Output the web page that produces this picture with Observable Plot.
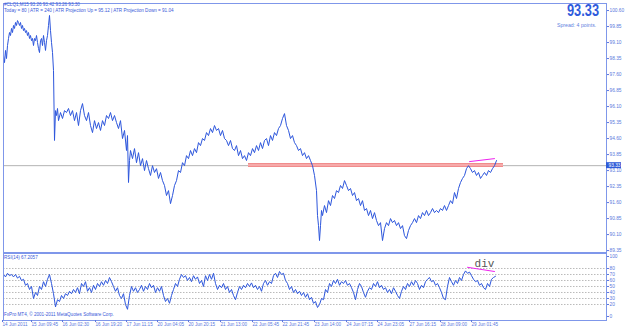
<!DOCTYPE html>
<html><head><meta charset="utf-8">
<script src="https://cdn.jsdelivr.net/npm/d3@7"></script>
<script src="https://cdn.jsdelivr.net/npm/@observablehq/plot@0.6"></script>
<style>
body{margin:0;background:#fff;}
#wrap{position:relative;width:625px;height:328px;overflow:hidden;font-family:"Liberation Sans",Arial,sans-serif;background:#fff;}
#wrap svg{position:absolute;left:0;overflow:visible;}
.t{position:absolute;white-space:nowrap;color:#3a5ad8;line-height:1;}
</style></head><body><div id="wrap"></div>
<script>
// ---- data (bar index of M15 bars) ----
const priceBars = [
0,2,4,6,8,10,12,14,16,18,20,22,24,26,28,30,32,34,36,38,40,42,44,46,48,50,52,54,56,58,60,62,64,66,68,70,72,74,76,78,80,82,84,86,88,90,92,94,96,98,100,102,104,106,108,110,
114,118,122,126,130,134,138,142,146,150,154,158,162,166,170,174,178,182,186,190,194,198,202,206,210,214,218,222,226,230,234,238,242,246,
248,250,252,254,
258,262,266,270,274,278,282,286,290,294,298,302,306,310,314,318,322,326,330,334,338,342,346,350,354,358,362,366,370,374,378,382,386,390,394,398,402,406,410,414,418,422,426,430,434,438,442,446,450,454,458,462,466,470,474,478,482,486,490,494,498,502,506,510,514,518,522,526,530,534,538,542,546,550,554,558,562,566,570,574,578,582,586,590,594,598,602,606,610,614,618,622,626,
628,630,632,634,636,638,
642,646,650,654,658,662,666,670,674,678,682,686,690,694,698,702,706,710,714,718,722,726,730,734,738,742,746,750,754,758,762,766,770,774,778,782,786,790,794,798,802,806,810,814,818,822,826,830,834,838,842,846,850,854,858,862,866,870,874,878,882,886,890,894,898,902,906,910,914,918,922,926,930,934,938,942,946,950,954,958,962,966,970,974,978,982,986];
const priceVals = [
98.49,98.16,98.73,98.35,98.96,99.29,99.57,99.43,99.76,99.57,99.90,99.76,100.04,99.90,100.13,100.04,99.90,100.04,99.76,99.90,99.66,99.76,99.57,99.66,99.43,99.57,99.29,99.43,99.19,99.29,98.96,99.29,99.19,99.43,99.10,98.82,98.63,99.19,99.29,98.96,99.43,99.10,98.73,99.19,99.43,99.90,100.37,99.66,99.10,98.63,97.79,94.51,95.91,95.68,96.01,95.44,
95.82,95.54,95.91,95.82,96.01,95.68,95.91,95.44,95.82,95.21,95.91,96.24,95.68,95.44,95.82,95.21,94.88,95.44,95.07,95.35,94.98,95.44,95.21,95.68,95.54,95.82,95.44,95.68,95.35,95.07,95.44,94.60,94.98,94.04,
94.74,92.54,93.57,94.04,
93.66,94.13,93.47,93.94,93.33,93.66,93.10,93.57,93.19,92.87,93.33,93.01,93.19,92.73,93.01,92.63,92.40,91.93,92.16,91.55,91.93,92.40,92.63,93.10,93.01,93.47,93.33,93.80,93.66,94.04,93.80,94.13,93.94,94.41,94.27,94.60,94.51,94.88,94.74,95.07,94.88,95.21,94.98,95.07,94.74,94.98,94.60,94.51,94.27,94.51,94.13,94.04,94.27,93.80,94.04,93.66,93.80,93.57,93.94,93.80,94.13,93.94,94.27,94.04,94.41,94.13,94.51,94.60,94.27,94.74,94.51,94.88,94.74,95.07,95.21,95.54,95.77,95.21,94.98,94.60,94.74,94.41,94.27,94.04,94.13,93.80,93.94,93.66,93.80,93.57,93.33,92.87,92.16,
90.99,90.52,89.82,90.52,91.23,90.99,
91.46,91.13,91.69,91.46,91.93,91.79,92.16,92.07,92.40,92.26,92.63,92.40,92.16,92.26,91.93,92.07,91.69,91.79,91.46,91.69,91.23,91.32,90.99,91.23,90.85,91.13,90.76,90.52,90.66,89.82,90.38,90.66,90.52,90.85,90.66,90.76,90.52,90.66,90.38,90.52,90.05,89.91,90.29,90.52,90.66,90.85,90.66,90.99,90.85,91.13,90.99,91.23,90.99,91.13,91.32,91.13,91.23,91.13,91.32,91.23,91.46,91.23,91.46,91.69,91.55,92.07,91.79,92.26,92.54,92.73,92.87,93.19,93.33,93.19,93.01,93.10,92.87,93.01,92.73,92.87,93.01,92.87,93.10,93.01,93.19,93.33,93.57];
const rsiBars = [
0,4,8,12,16,20,24,28,32,36,40,44,48,52,56,60,64,68,72,76,80,84,88,92,96,100,104,108,112,116,120,124,128,132,136,140,144,148,152,156,160,164,168,172,176,180,184,188,192,196,
200,204,208,212,216,220,224,228,232,236,240,244,248,252,256,260,264,268,272,276,280,284,288,292,296,300,304,308,312,316,320,324,328,332,336,340,344,348,352,356,360,364,368,372,376,380,384,388,392,396,
400,404,408,412,416,420,424,428,432,436,440,444,448,452,456,460,464,468,472,476,480,484,488,492,496,500,504,508,512,516,520,524,528,532,536,540,544,548,552,556,560,564,568,572,576,580,584,588,592,596,
600,604,608,612,616,620,624,628,632,636,640,644,648,652,656,660,664,668,672,676,680,684,688,692,696,700,704,708,712,716,720,724,728,732,736,740,744,748,752,756,760,764,768,772,776,780,784,788,792,796,
800,804,808,812,816,820,824,828,832,836,840,844,848,852,856,860,864,868,872,876,880,884,888,892,896,900,904,908,912,916,920,924,928,932,936,940,944,948,952,956,960,964,968,972,976,980,984];
const rsiVals = [
70,66,72,68,70,66,70,64,67,60, 62,52,55,45,50,30,40,35,50,45, 58,50,62,70,55,38,16,28,25,35, 30,38,35,42,38,45,40,48,38,55,
50,58,42,48,40,52,45,55,50,58, 52,60,55,65,58,50,42,48,35,30, 38,20,12,35,50,42,48,40,45,52, 42,50,45,55,48,52,40,48,42,50,
35,25,30,22,35,45,55,50,62,70, 65,68,60,65,58,68,62,66,55,60, 50,68,60,70,62,72,55,45,52,48, 55,45,50,40,45,35,28,40,50,45,
52,48,55,50,56,48,52,45,50,42, 55,60,52,58,55,68,72,65,75,70, 72,60,55,45,50,40,45,38,42,35, 40,32,38,28,32,22,25,15,20,30,
28,45,40,55,50,60,55,62,52,58, 55,60,52,55,48,40,28,45,55,50, 40,32,42,48,45,55,50,58,48,52, 45,48,40,45,38,48,42,35,30,42,
50,45,55,50,58,52,60,55,45,52, 48,58,62,65,58,60,52,55,48,40, 30,28,50,65,58,52,60,55,65,60, 70,76,72,74,68,62,58,60,52,55,
48,45,55,50,62,65,67];
const dateTickBars = [0,58,120,186,248,310,372,436,500,560,624,688,750,814,876,938];
const dateTickLabels = ["14 Jun 2011","15 Jun 09:45","16 Jun 02:30","16 Jun 19:20","17 Jun 11:15","20 Jun 04:05","20 Jun 20:15","21 Jun 13:00","22 Jun 05:45","22 Jun 21:45","23 Jun 14:00","24 Jun 07:15","24 Jun 23:05","27 Jun 16:15","28 Jun 09:00","29 Jun 01:45"];
const priceTicks = [100.60,99.85,99.10,98.35,97.60,96.85,96.10,95.35,94.60,93.85,93.10,92.35,91.60,90.85,90.10,89.35];
const rsiTicks = [100,80,70,60,50,40,30,20,0];
const rsiLevels = [80,70,60,50,40,30,20];
const bid = 93.33;
const resistLevel = 93.36, resistFrom = 490, resistTo = 1000;
const priceDivBars = [932,982], priceDivVals = [93.52,93.66];
const rsiDivBars = [928,982], rsiDivVals = [82,75];
const divLabel = {bar: 962, value: 89, text: "div"};
const barsShown = 1206;

const n = Math.min(priceBars.length, priceVals.length);
const priceData = priceBars.slice(0, n).map((b,i)=>({bar:b, price:priceVals[i]}));
const m = Math.min(rsiBars.length, rsiVals.length);
const rsiData = rsiBars.slice(0, m).map((b,i)=>({bar:b, rsi:rsiVals[i]}));

const blue = "#2d56dc";
const axisBlue = "#7f97ea";
const wrap = document.getElementById("wrap");

const main = Plot.plot({
  width: 625, height: 252,
  marginLeft: 3, marginRight: 19, marginTop: 3, marginBottom: 0,
  style: {color: "#5a78dc", background: "transparent", fontFamily: "Liberation Sans, Arial, sans-serif"},
  x: {domain: [0, barsShown], axis: null},
  y: {domain: [89.26, 100.93], axis: null},
  marks: [
    Plot.ruleY([bid], {stroke: "#b4b4b4", strokeWidth: 1}),
    Plot.ruleY([resistLevel], {x1: resistFrom, x2: resistTo, stroke: "#f08c8c", strokeWidth: 4}),
    Plot.ruleY([resistLevel], {x1: resistFrom, x2: resistTo, stroke: "#f8b4b4", strokeWidth: 1.5}),
    Plot.line(priceData, {x: "bar", y: "price", stroke: blue, strokeWidth: 1}),
    Plot.line(priceDivBars.map((b,i)=>({bar:b, v:priceDivVals[i]})), {x: "bar", y: "v", stroke: "#ee22ee", strokeWidth: 1}),
    Plot.frame({stroke: axisBlue}),
    Plot.axisY({anchor: "right", label: null, ticks: priceTicks, tickFormat: d => d.toFixed(2), tickSize: 2, tickPadding: 1, fontSize: 4.8}),
    Plot.rect([bid], {x1: barsShown, x2: barsShown + 30, y1: d => d - 0.14, y2: d => d + 0.14, fill: "#2f5bd8", clip: false}),
    Plot.text([bid], {x: barsShown, y: d => d, text: d => d.toFixed(2), dx: 2, textAnchor: "start", fill: "white", fontSize: 4.8, clip: false})
  ]
});
main.style.top = "0px";
wrap.appendChild(main);

const rsiPlot = Plot.plot({
  width: 625, height: 76,
  marginLeft: 3, marginRight: 19, marginTop: 1, marginBottom: 8,
  style: {color: "#5a78dc", background: "transparent", fontFamily: "Liberation Sans, Arial, sans-serif"},
  x: {domain: [0, barsShown], axis: null},
  y: {domain: [-6.67, 105], axis: null},
  marks: [
    Plot.ruleY(rsiLevels, {stroke: "#a8a8a8", strokeDasharray: "1.5,1.5", strokeWidth: 0.8}),
    Plot.line(rsiData, {x: "bar", y: "rsi", stroke: blue, strokeWidth: 1}),
    Plot.line(rsiDivBars.map((b,i)=>({bar:b, v:rsiDivVals[i]})), {x: "bar", y: "v", stroke: "#ee22ee", strokeWidth: 1}),
    Plot.text([divLabel], {x: "bar", y: "value", text: "text", fill: "#555", fontSize: 11, fontFamily: "Liberation Mono, monospace", textAnchor: "middle"}),
    Plot.frame({stroke: axisBlue}),
    Plot.axisY({anchor: "right", label: null, ticks: rsiTicks, tickSize: 2, tickPadding: 1, fontSize: 4.8}),
    Plot.axisX({anchor: "bottom", label: null, ticks: dateTickBars, tickFormat: d => dateTickLabels[dateTickBars.indexOf(d)], tickSize: 2, tickPadding: 0.5, fontSize: 4.6, textAnchor: "start", dx: -1})
  ]
});
rsiPlot.style.top = "252px";
wrap.appendChild(rsiPlot);

function addText(txt, left, top, size, extra) {
  const d = document.createElement("div");
  d.className = "t";
  d.textContent = txt;
  d.style.left = left + "px";
  d.style.top = top + "px";
  d.style.fontSize = size + "px";
  if (extra) Object.assign(d.style, extra);
  wrap.appendChild(d);
}
addText("#CLQ1,M15  93.26 93.42 93.26 93.30", 4, 3, 4.6);
addText("Today = 80   |   ATR = 240   |   ATR Projection Up = 95.12   |   ATR Projection Down = 91.04", 4, 9, 4.6);
addText("93.33", 567, 3, 16, {fontWeight: "bold", color: "#2f5bdc", transform: "scaleX(0.8)", transformOrigin: "left top"});
addText("Spread: 4 points.", 557, 23, 5.2, {color: "#5f7fe0"});
addText("RSI(14) 67.2057", 4, 256, 4.6);
addText("FxPro MT4, \u00a9 2001-2011 MetaQuotes Software Corp.", 4, 313, 4.6);
</script></body></html>
